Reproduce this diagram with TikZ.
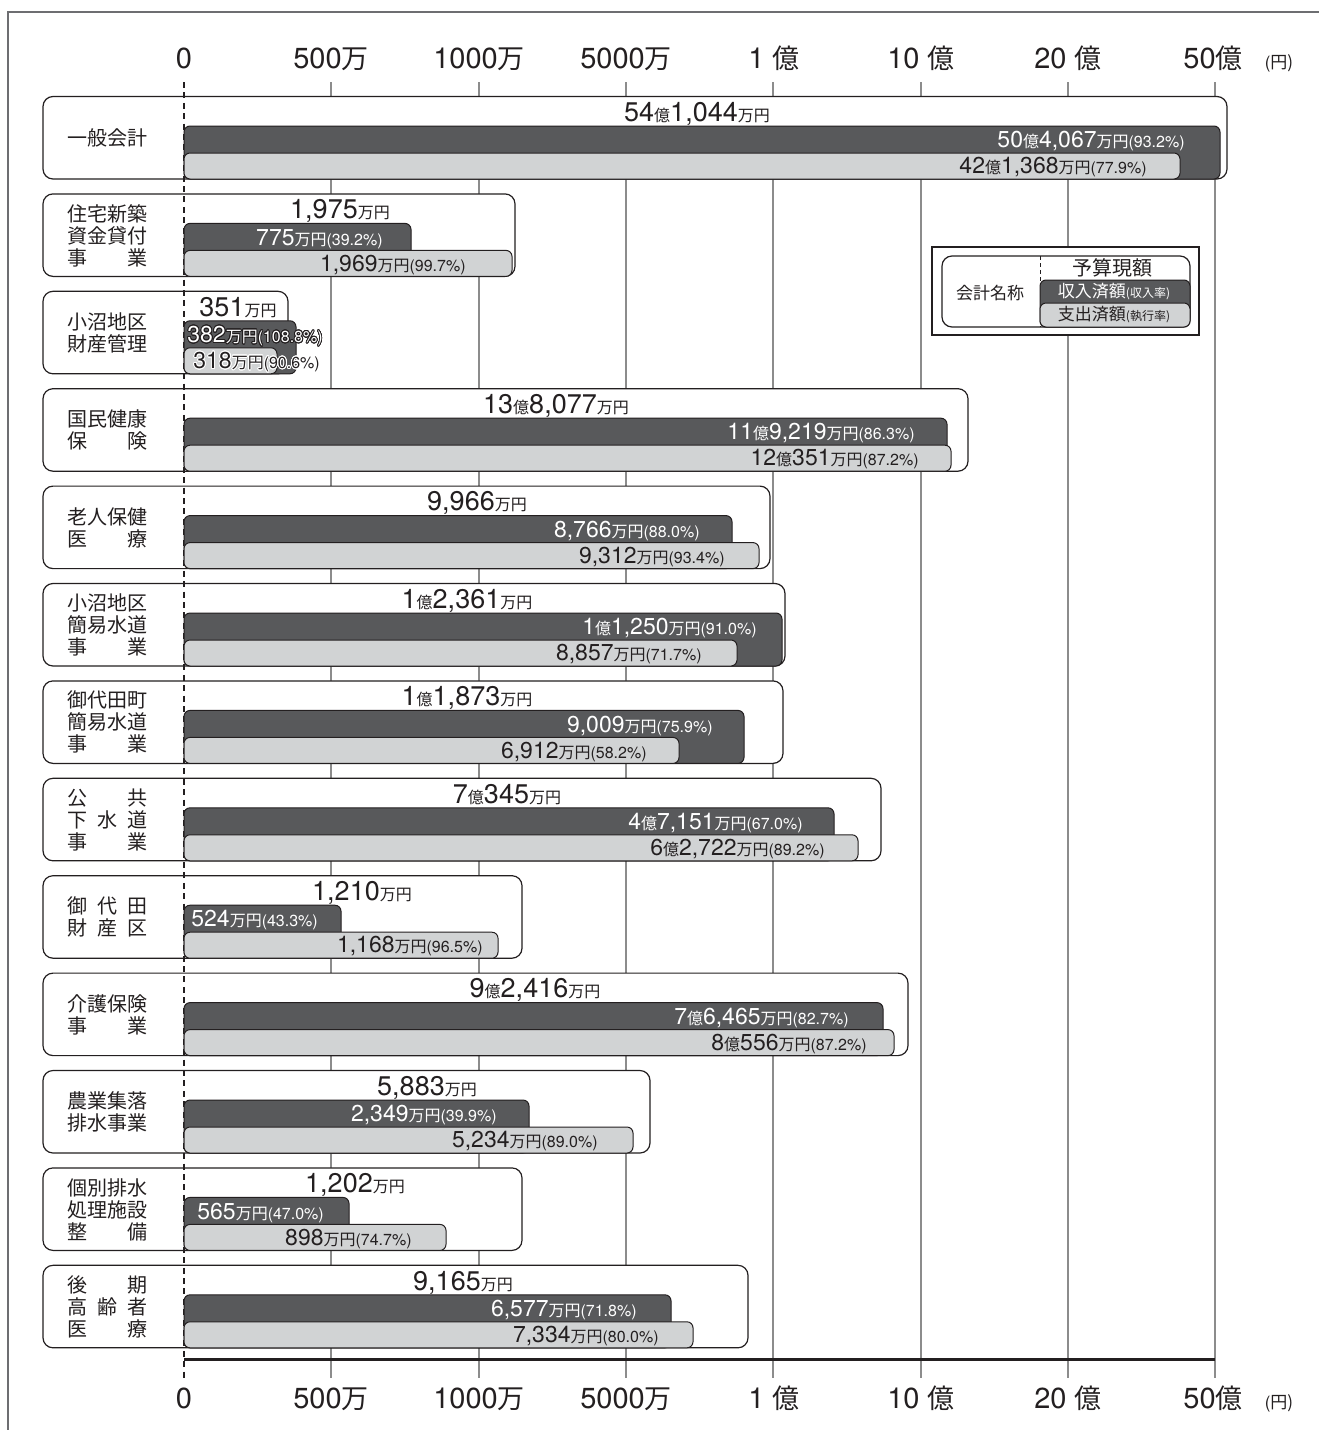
\documentclass[tikz,border=0pt]{standalone}
\usepackage{fontspec}
\setmainfont{TeX Gyre Heros}
\newfontfamily\jp{Noto Sans CJK JP}
\usepackage{contour}
\contourlength{0.4pt}
\contournumber{24}
\definecolor{darkfill}{HTML}{58595B}
\definecolor{lightfill}{HTML}{D1D3D4}
\definecolor{ink}{HTML}{231F20}
\definecolor{gridc}{HTML}{8C8C8C}
\definecolor{framec}{HTML}{6D6E71}
\newcommand\ok{{\jp\fontsize{8}{8}\selectfont 億}}
\newcommand\mn{{\jp\fontsize{8}{8}\selectfont 万円}}
\newcommand\pc[1]{{\fontsize{8}{8}\selectfont(#1\%)}}
\newcommand\axj[1]{{\jp\fontsize{13.5}{14}\selectfont #1}}
\newcommand\jl[1]{\hbox to 4em{#1}}
\tikzset{
  rowbox/.style={draw=ink, line width=0.6pt, fill=white, rounded corners=5pt},
  darkbar/.style={draw=ink, line width=0.5pt, fill=darkfill, rounded corners=3pt},
  lightbar/.style={draw=ink, line width=0.5pt, fill=lightfill, rounded corners=3pt},
  gridline/.style={draw=gridc, line width=0.6pt},
  zeroline/.style={draw=ink, line width=0.6pt, dash pattern=on 3pt off 2.2pt},
  axl/.style={font=\fontsize{14.5}{15}\selectfont, text=ink, anchor=base, yshift=-5.2pt, inner sep=0},
  toplab/.style={font=\fontsize{13.5}{14}\selectfont, text=ink, anchor=base, yshift=-4.9pt, inner sep=0},
  dtext/.style={font=\fontsize{11.5}{12}\selectfont, text=white, anchor=base east, yshift=-4.1pt, inner sep=0},
  ltext/.style={font=\fontsize{11.5}{12}\selectfont, text=ink, anchor=base east, yshift=-4.1pt, inner sep=0},
  rowlab/.style={font=\jp\fontsize{10}{11}\selectfont, text=ink, align=left, anchor=west, inner sep=0},
}
\begin{document}
\begin{tikzpicture}[x=0.5pt,y=-0.5pt]
\useasboundingbox (0,0) rectangle (1319,1430);
% frame
\draw[framec, line width=0.7pt] (8,1430) -- (8,12) -- (1319,12);
% grid lines
\foreach \gx in {331,479,626,773,921,1068,1215}{
  \draw[gridline] (\gx,82) -- (\gx,1378);
}
% axis labels
\foreach \yy/\nm in {58/t,1398/b}{
  \node[axl] (\nm0) at (184,\yy) {0};
  \node[axl] (\nm1) at (331,\yy) {500\axj{万}};
  \node[axl] (\nm2) at (479,\yy) {1000\axj{万}};
  \node[axl] (\nm3) at (626,\yy) {5000\axj{万}};
  \node[axl] (\nm4) at (774,\yy) {1 \axj{億}};
  \node[axl] (\nm5) at (921,\yy) {10 \axj{億}};
  \node[axl] (\nm6) at (1068,\yy) {20 \axj{億}};
  \node[axl] (\nm7) at (1213,\yy) {50\axj{億}};
  \node[axl] (\nm8) at (1279,\yy) {\fontsize{8.5}{9}\selectfont(\jp 円)};
}
% bottom axis
\draw[ink, line width=1.5pt] (184,1359) -- (1215,1359);
% row boxes
\foreach \i/\br in {0/1227,1/515,2/288,3/968,4/770,5/785,6/783,7/881,8/522,9/908,10/650,11/522,12/748}{
  \pgfmathsetmacro\tp{96.5+97.4*\i}
  \pgfmathsetmacro\bt{\tp+82.5}
  \draw[rowbox] (43,\tp) rectangle (\br,\bt);
}
% zero line
\draw[zeroline] (184,82) -- (184,1378);
% bars
\foreach \i/\dr/\lr in {0/1220/1180,1/411/512,2/296/277,3/947/951,4/732/759,5/782/737,6/744/679,7/834/858,8/341/498,9/883/894,10/529/633,11/349/446,12/671/693}{
  \pgfmathsetmacro\tp{96.5+97.4*\i}
  \pgfmathsetmacro\bt{\tp+82.5}
  \pgfmathsetmacro\dt{\tp+29.5}
  \pgfmathsetmacro\lt{\tp+56.5}
  \draw[darkbar] (184,\dt) rectangle (\dr,\bt);
  \draw[lightbar] (184,\lt) rectangle (\lr,\bt);
}
% row labels
\node[rowlab] (r0) at (67,138) {一般会計};
\node[rowlab] (r1) at (67,235.4) {住宅新築\\資金貸付\\\jl{事\hfill 業}};
\node[rowlab] (r2) at (67,332.8) {小沼地区\\財産管理};
\node[rowlab] (r3) at (67,430.2) {国民健康\\\jl{保\hfill 険}};
\node[rowlab] (r4) at (67,527.6) {老人保健\\\jl{医\hfill 療}};
\node[rowlab] (r5) at (67,625) {小沼地区\\簡易水道\\\jl{事\hfill 業}};
\node[rowlab] (r6) at (67,722.4) {御代田町\\簡易水道\\\jl{事\hfill 業}};
\node[rowlab] (r7) at (67,819.8) {\jl{公\hfill 共}\\\jl{下\hfill 水\hfill 道}\\\jl{事\hfill 業}};
\node[rowlab] (r8) at (67,917.2) {\jl{御\hfill 代\hfill 田}\\\jl{財\hfill 産\hfill 区}};
\node[rowlab] (r9) at (67,1014.6) {介護保険\\\jl{事\hfill 業}};
\node[rowlab] (r10) at (67,1112) {農業集落\\排水事業};
\node[rowlab] (r11) at (67,1209.4) {個別排水\\処理施設\\\jl{整\hfill 備}};
\node[rowlab] (r12) at (67,1306.8) {\jl{後\hfill 期}\\\jl{高\hfill 齢\hfill 者}\\\jl{医\hfill 療}};
% budget labels
\node[toplab] (v0) at (697,111.5) {54\ok 1,044\mn};
\node[toplab] (v1) at (340,208.9) {1,975\mn};
\node[toplab] (v2) at (238,306.3) {351\mn};
\node[toplab] (v3) at (556,403.7) {13\ok 8,077\mn};
\node[toplab] (v4) at (477,501.1) {9,966\mn};
\node[toplab] (v5) at (467,598.5) {1\ok 2,361\mn};
\node[toplab] (v6) at (467,695.9) {1\ok 1,873\mn};
\node[toplab] (v7) at (507,793.3) {7\ok 345\mn};
\node[toplab] (v8) at (362,890.7) {1,210\mn};
\node[toplab] (v9) at (535,988.1) {9\ok 2,416\mn};
\node[toplab] (v10) at (427,1085.5) {5,883\mn};
\node[toplab] (v11) at (355,1182.9) {1,202\mn};
\node[toplab] (v12) at (463,1280.3) {9,165\mn};
% revenue (dark bar) texts
\node[dtext] (d0) at (1185,139.5) {50\ok 4,067\mn\pc{93.2}};
\node[dtext] (d1) at (383,236.9) {775\mn\pc{39.2}};
\node[dtext, anchor=base west] (d2) at (187,334.3) {\contour{ink}{382\mn\pc{108.8}}};
\node[dtext] (d3) at (915,431.7) {11\ok 9,219\mn\pc{86.3}};
\node[dtext] (d4) at (700,529.1) {8,766\mn\pc{88.0}};
\node[dtext] (d5) at (757,626.5) {1\ok 1,250\mn\pc{91.0}};
\node[dtext] (d6) at (713,723.9) {9,009\mn\pc{75.9}};
\node[dtext] (d7) at (803,821.3) {4\ok 7,151\mn\pc{67.0}};
\node[dtext, anchor=base west] (d8) at (191,918.7) {524\mn\pc{43.3}};
\node[dtext] (d9) at (849,1016.1) {7\ok 6,465\mn\pc{82.7}};
\node[dtext] (d10) at (497,1113.5) {2,349\mn\pc{39.9}};
\node[dtext, anchor=base west] (d11) at (197,1210.9) {565\mn\pc{47.0}};
\node[dtext] (d12) at (637,1308.3) {6,577\mn\pc{71.8}};
% expenditure (light bar) texts
\node[ltext] (l0) at (1147,165.5) {42\ok 1,368\mn\pc{77.9}};
\node[ltext] (l1) at (466,262.9) {1,969\mn\pc{99.7}};
\node[ltext, anchor=base west] (l2) at (193,360.3) {\contour{white}{318\mn\pc{90.6}}};
\node[ltext] (l3) at (919,457.7) {12\ok 351\mn\pc{87.2}};
\node[ltext] (l4) at (725,555.1) {9,312\mn\pc{93.4}};
\node[ltext] (l5) at (702,652.5) {8,857\mn\pc{71.7}};
\node[ltext] (l6) at (647,749.9) {6,912\mn\pc{58.2}};
\node[ltext] (l7) at (825,847.3) {6\ok 2,722\mn\pc{89.2}};
\node[ltext] (l8) at (483,944.7) {1,168\mn\pc{96.5}};
\node[ltext] (l9) at (867,1042.1) {8\ok 556\mn\pc{87.2}};
\node[ltext] (l10) at (598,1139.5) {5,234\mn\pc{89.0}};
\node[ltext] (l11) at (412,1236.9) {898\mn\pc{74.7}};
\node[ltext] (l12) at (659,1334.3) {7,334\mn\pc{80.0}};
% legend
\draw[ink, fill=white, line width=0.8pt] (932,247) rectangle (1199,335);
\draw[rowbox] (942,256) rectangle (1190,327);
\draw[zeroline, line width=0.4pt, dash pattern=on 2pt off 1.5pt] (1040,256) -- (1040,327);
\draw[darkbar] (1040,280) rectangle (1190,327);
\draw[lightbar] (1040,303) rectangle (1190,327);
\node[inner sep=0, text=ink, font=\jp\fontsize{10}{10}\selectfont] (lg1) at (1112,268) {予算現額};
\node[inner sep=0, text=ink, font=\jp\fontsize{8.5}{9}\selectfont] (lg2) at (990,293) {会計名称};
\node[inner sep=0, text=white, font=\jp\fontsize{8.5}{9}\selectfont] (lg3) at (1114,292) {収入済額{\fontsize{6}{6}\selectfont(収入率)}};
\node[inner sep=0, text=ink, font=\jp\fontsize{8.5}{9}\selectfont] (lg4) at (1114,315) {支出済額{\fontsize{6}{6}\selectfont(執行率)}};
\end{tikzpicture}
\end{document}
